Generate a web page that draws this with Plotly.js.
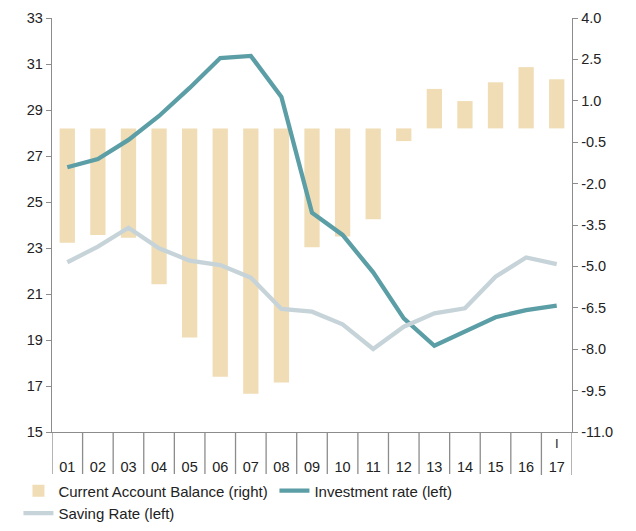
<!DOCTYPE html>
<html>
<head>
<meta charset="utf-8">
<script src="https://cdn.plot.ly/plotly-3.0.1.min.js"></script>
<style>html,body{margin:0;padding:0;background:#fff;}#chart{width:636px;height:531px;}</style>
</head>
<body>
<div id="chart"></div>
<script>
var years = ["01","02","03","04","05","06","07","08","09","10","11","12","13","14","15","16","17"];
var currentAccount = [-4.14,-3.86,-3.96,-5.65,-7.58,-9.0,-9.61,-9.21,-4.31,-3.92,-3.29,-0.46,1.43,0.99,1.67,2.22,1.78];
var investmentRate = [26.51,26.87,27.7,28.74,29.96,31.26,31.35,29.57,24.53,23.57,21.94,19.94,18.75,19.36,19.99,20.3,20.49];
var savingRate = [22.38,23.06,23.88,22.99,22.45,22.26,21.71,20.35,20.23,19.68,18.61,19.58,20.16,20.38,21.75,22.59,22.3];
var leftTicks = [15,17,19,21,23,25,27,29,31,33];
var rightTicks = [-11.0,-9.5,-8.0,-6.5,-5.0,-3.5,-2.0,-0.5,1.0,2.5,4.0];
var periodMark = "I";

var fontFam = "Liberation Sans, Arial, sans-serif";
var axisColor = "#8c8c8c";

var traces = [
  {type:"bar", name:"Current Account Balance (right)", x:years, y:currentAccount, yaxis:"y",
   marker:{color:"#F0DDB5"}, width:0.5, hoverinfo:"y"},
  {type:"scatter", mode:"lines", name:"Investment rate (left)", x:years, y:investmentRate, yaxis:"y2",
   line:{color:"#5B9EA6", width:4.3}},
  {type:"scatter", mode:"lines", name:"Saving Rate (left)", x:years, y:savingRate, yaxis:"y2",
   line:{color:"#C6D4D9", width:4.3}}
];

var shapes = [];
for (var i = 0; i <= years.length; i++) {
  shapes.push({type:"line", xref:"x", yref:"paper", x0:i-0.5, x1:i-0.5, y0:0, y1:-43/414,
    line:{color:axisColor, width:1.3}});
}

var layout = {
  width:636, height:531,
  margin:{l:52, r:64, t:18, b:99},
  paper_bgcolor:"#fff", plot_bgcolor:"#fff",
  font:{family:fontFam, size:14.5, color:"#222"},
  showlegend:true,
  bargap:0.5,
  xaxis:{type:"category", range:[-0.5, years.length-0.5], showgrid:false, zeroline:false,
    showline:true, linecolor:axisColor, linewidth:1.3, ticks:"", ticklabelstandoff:21,
    tickfont:{size:14.5}},
  yaxis:{side:"right", range:[-11,4], tickvals:rightTicks, ticktext:rightTicks.map(function(v){return v.toFixed(1);}),
    showgrid:false, zeroline:false, showline:true, linecolor:axisColor, linewidth:1.3,
    ticks:"outside", ticklen:5, tickcolor:axisColor, tickfont:{size:14.5}},
  yaxis2:{side:"left", overlaying:"y", range:[15,33], tickvals:leftTicks,
    showgrid:false, zeroline:false, showline:true, linecolor:axisColor, linewidth:1.3,
    ticks:"outside", ticklen:5, tickcolor:axisColor, tickfont:{size:14.5}},
  legend:{orientation:"h", xref:"container", yref:"container", x:0.029, xanchor:"left", y:0.1066, yanchor:"top",
    font:{size:15, color:"#222"}, traceorder:"normal", itemwidth:30, tracegroupgap:0,
    entrywidth:211, entrywidthmode:"pixels"},
  shapes:shapes,
  annotations:[{xref:"paper", yref:"paper", x:(years.length-0.5)/years.length, y:-0.027,
    xanchor:"center", yanchor:"middle",
    text:periodMark, showarrow:false, font:{size:13, color:"#222"}}]
};

Plotly.newPlot("chart", traces, layout, {displayModeBar:false, staticPlot:true});
</script>
</body>
</html>
